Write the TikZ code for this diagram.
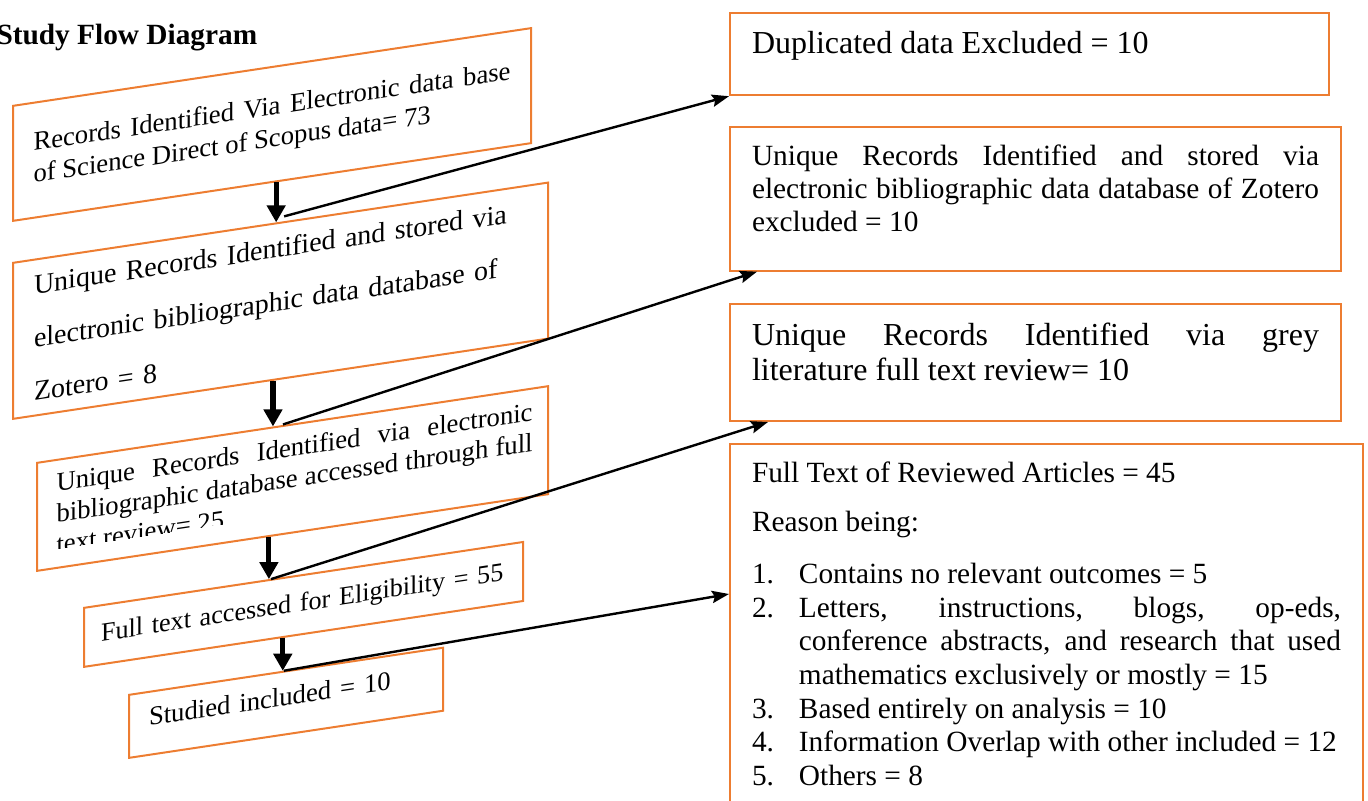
\documentclass[tikz,border=0pt]{standalone}
\usepackage{fontspec}
\setmainfont{Liberation Serif}
\usetikzlibrary{calc, arrows.meta}

\definecolor{boxorange}{HTML}{ED7D31}
\newdimen\pxu
\pxu=0.375pt
\setlength{\parindent}{0pt}

\newcommand{\reason}[2]{\par\noindent\hangindent=17.6pt\hangafter=1\makebox[17.6pt][l]{#1}#2\par}

\tikzset{
  lbox/.style={draw=boxorange, line width=0.75pt, anchor=north west, inner xsep=20\pxu, align=justify},
  ltext/.style={anchor=north west, inner xsep=20\pxu, align=justify},
  rbox/.style={draw=boxorange, line width=0.75pt, anchor=north west, inner xsep=22\pxu, inner ysep=18\pxu, align=justify},
  downarrow/.style={line width=1.9pt, -{Triangle[length=6.4pt, width=6.8pt]}},
  sidearrow/.style={line width=0.9pt, -{Stealth[length=6.4pt, width=4.6pt, inset=1pt]}}
}

\begin{document}
\begin{tikzpicture}[x=0.375pt, y=-0.375pt]
\useasboundingbox (0,0) rectangle (1368,801);

\node[anchor=base west, inner sep=0pt, font=\fontsize{11}{13}\selectfont\bfseries] (title) at (-4,45) {Study Flow Diagram};

\begin{scope}[shift={(12,105)}, yslant=0.15, transform shape]
  \node[lbox, minimum width=518\pxu, minimum height=115\pxu, text width=477\pxu, font=\fontsize{10}{12}\selectfont] (l1) at (0,0)
    {Records Identified Via Electronic data base\linebreak of Science Direct of Scopus data= 73};
\end{scope}

\begin{scope}[shift={(12,262)}, yslant=0.15, transform shape]
  \node[lbox, minimum width=535\pxu, minimum height=156\pxu, inner xsep=21\pxu, text width=493\pxu, align=left, font=\fontsize{10.5}{20}\selectfont] (l2) at (0,0)
    {Unique Records Identified and stored via electronic bibliographic data database of Zotero = 8};
\end{scope}

\begin{scope}[shift={(36,462)}, yslant=0.15, transform shape]
  \begin{scope}
    \clip (0,0) rectangle (511,90);
    \node[ltext, minimum width=511\pxu, minimum height=108\pxu, text width=476\pxu, font=\fontsize{10}{11.6}\selectfont] (l3text) at (0,0)
      {Unique Records Identified via electronic\linebreak bibliographic database accessed through full\linebreak text review= 25};
  \end{scope}
  \node[lbox, minimum width=511\pxu, minimum height=108\pxu] (l3) at (0,0) {};
\end{scope}

\begin{scope}[shift={(83,607)}, yslant=0.15, transform shape]
  \node[lbox, minimum width=439\pxu, minimum height=59\pxu, inner xsep=17\pxu, text width=405\pxu, align=left, font=\fontsize{9.8}{12}\selectfont] (l4) at (0,0)
    {Full text accessed for Eligibility = 55};
\end{scope}

\begin{scope}[shift={(128,694)}, yslant=0.15, transform shape]
  \node[lbox, minimum width=314\pxu, minimum height=63\pxu, text width=274\pxu, align=left, text depth=5pt, font=\fontsize{10}{12}\selectfont] (l5) at (0,0)
    {Studied included = 10};
\end{scope}

\node[rbox, minimum width=599\pxu, minimum height=82\pxu, text width=555\pxu, text depth=24\pxu, font=\fontsize{12}{13}\selectfont] (r1) at (729,12)
  {Duplicated data Excluded = 10};
\node[rbox, minimum width=611\pxu, minimum height=142\pxu, text width=567\pxu, text depth=87\pxu, font=\fontsize{11}{12.4}\selectfont] (r2) at (729,126)
  {Unique Records Identified and stored via\linebreak electronic bibliographic data database of Zotero excluded = 10};
\node[rbox, minimum width=611\pxu, minimum height=117\pxu, text width=567\pxu, text depth=57\pxu, font=\fontsize{12}{13.1}\selectfont] (r3) at (729,303)
  {Unique Records Identified via grey\linebreak literature full text review= 10};
\node[rbox, minimum width=633\pxu, minimum height=372\pxu, text width=589\pxu, text depth=316\pxu, font=\fontsize{11}{12.6}\selectfont] (r4) at (729,443) {
  Full Text of Reviewed Articles = 45\par\vspace{5.8pt}
  Reason being:\par\vspace{6.9pt}
  \reason{1.}{Contains no relevant outcomes = 5}
  \reason{2.}{Letters, instructions, blogs, op-eds,\linebreak conference abstracts, and research that used\linebreak mathematics exclusively or mostly = 15}
  \reason{3.}{Based entirely on analysis = 10}
  \reason{4.}{Information Overlap with other included = 12}
  \reason{5.}{Others = 8}};

\coordinate (a1) at ($(l1.south west)!0.508!(l1.south east)$);
\coordinate (b1) at ($(l2.north west)!0.492!(l2.north east)$);
\coordinate (a2) at ($(l2.south west)!0.486!(l2.south east)$);
\coordinate (b2) at ($(l3.north west)!0.462!(l3.north east)$);
\coordinate (a3) at ($(l3.south west)!0.454!(l3.south east)$);
\coordinate (b3) at ($(l4.north west)!0.421!(l4.north east)$);
\coordinate (a4) at ($(l4.south west)!0.453!(l4.south east)$);
\coordinate (b4) at ($(l5.north west)!0.490!(l5.north east)$);

\coordinate (t1) at (a1 |- b1);
\coordinate (t2) at (a2 |- b2);
\coordinate (t3) at (a3 |- b3);
\coordinate (t4) at (a4 |- b4);

\draw[downarrow] (a1) -- (t1);
\draw[downarrow] (a2) -- (t2);
\draw[downarrow] (a3) -- (t3);
\draw[downarrow] (a4) -- (t4);

\draw[sidearrow] ([shift={(8,-6)}]t1) -- (r1.south west);
\draw[sidearrow] ([shift={(10,-2)}]t2) -- ([xshift=28\pxu]r2.south west);
\draw[sidearrow] ([shift={(2,0)}]t3) -- ([xshift=39\pxu]r3.south west);
\draw[sidearrow] ([shift={(1,0)}]t4) -- ([yshift=-151\pxu]r4.north west);
\end{tikzpicture}
\end{document}
